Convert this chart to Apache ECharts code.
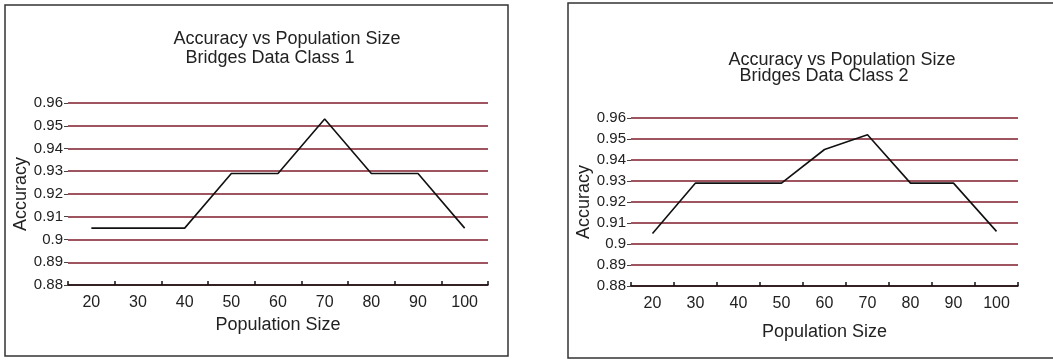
<!DOCTYPE html>
<html>
<head>
<meta charset="utf-8">
<script src="https://cdn.jsdelivr.net/npm/echarts@6/dist/echarts.min.js"></script>
<style>
html,body{margin:0;padding:0;background:#fff;}
#c{width:1053px;height:360px;}
</style>
</head>
<body>
<div id="c"></div>
<script>
var categories = ['20','30','40','50','60','70','80','90','100'];
var class1Accuracy = [0.905,0.905,0.905,0.929,0.929,0.953,0.929,0.929,0.905];
var class2Accuracy = [0.905,0.929,0.929,0.929,0.945,0.952,0.929,0.929,0.906];
var titleLine1 = 'Accuracy vs Population Size';
var titleLine2a = 'Bridges Data Class 1';
var titleLine2b = 'Bridges Data Class 2';
var xName = 'Population Size';
var yName = 'Accuracy';

var FONT = '"Liberation Sans", Arial, sans-serif';
var gridColor = '#7e1c2a';
var textColor = '#222';

function xAxis(gi, gap){
  return {
    type:'category', gridIndex:gi, data:categories, boundaryGap:true,
    name:xName, nameLocation:'middle', nameGap:gap,
    nameTextStyle:{fontFamily:FONT,fontSize:18,color:textColor},
    axisLine:{show:true,lineStyle:{color:'#111',width:1.5}},
    axisTick:{show:true,inside:true,length:4,alignWithLabel:false,lineStyle:{color:'#111',width:1.5}},
    axisLabel:{fontFamily:FONT,fontSize:16,color:textColor,margin:10,interval:0},
    splitLine:{show:false}
  };
}
function yAxis(gi){
  return {
    type:'value', gridIndex:gi, min:0.88, max:0.96, interval:0.01,
    name:yName, nameLocation:'middle', nameGap:38, nameRotate:90,
    nameTextStyle:{fontFamily:FONT,fontSize:18,color:textColor},
    axisLine:{show:false},
    axisTick:{show:true,length:4,lineStyle:{color:'#444',width:1}},
    axisLabel:{fontFamily:FONT,fontSize:15,color:textColor,margin:5,
      formatter:function(v){return String(+v.toFixed(2));}},
    splitLine:{show:true,lineStyle:{color:gridColor,width:1.7}}
  };
}
function title(text,x,y,size){
  return {text:text,left:x,top:y,textAlign:'center',
    textStyle:{fontFamily:FONT,fontSize:size,fontWeight:'normal',color:textColor}};
}

var chart = echarts.init(document.getElementById('c'));
chart.setOption({
  backgroundColor:'#fff',
  animation:false,
  title:[
    title(titleLine1,282,25,18),
    title(titleLine2a,265,44,18),
    title(titleLine1,837,46,18),
    title(titleLine2b,819,62,18)
  ],
  grid:[
    {left:68,width:420,top:103,height:182},
    {left:631,width:387,top:118,height:168}
  ],
  xAxis:[xAxis(0,31),xAxis(1,37)],
  yAxis:[yAxis(0),yAxis(1)],
  series:[
    {type:'line',xAxisIndex:0,yAxisIndex:0,data:class1Accuracy,showSymbol:false,
      lineStyle:{color:'#111',width:1.6},z:5},
    {type:'line',xAxisIndex:1,yAxisIndex:1,data:class2Accuracy,showSymbol:false,
      lineStyle:{color:'#111',width:1.6},z:5}
  ],
  graphic:[
    {type:'rect',shape:{x:5,y:5,width:503,height:351},style:{fill:null,stroke:'#333',lineWidth:1.5},silent:true},
    {type:'rect',shape:{x:568,y:3,width:500,height:355},style:{fill:null,stroke:'#333',lineWidth:1.5},silent:true}
  ]
});
</script>
</body>
</html>
